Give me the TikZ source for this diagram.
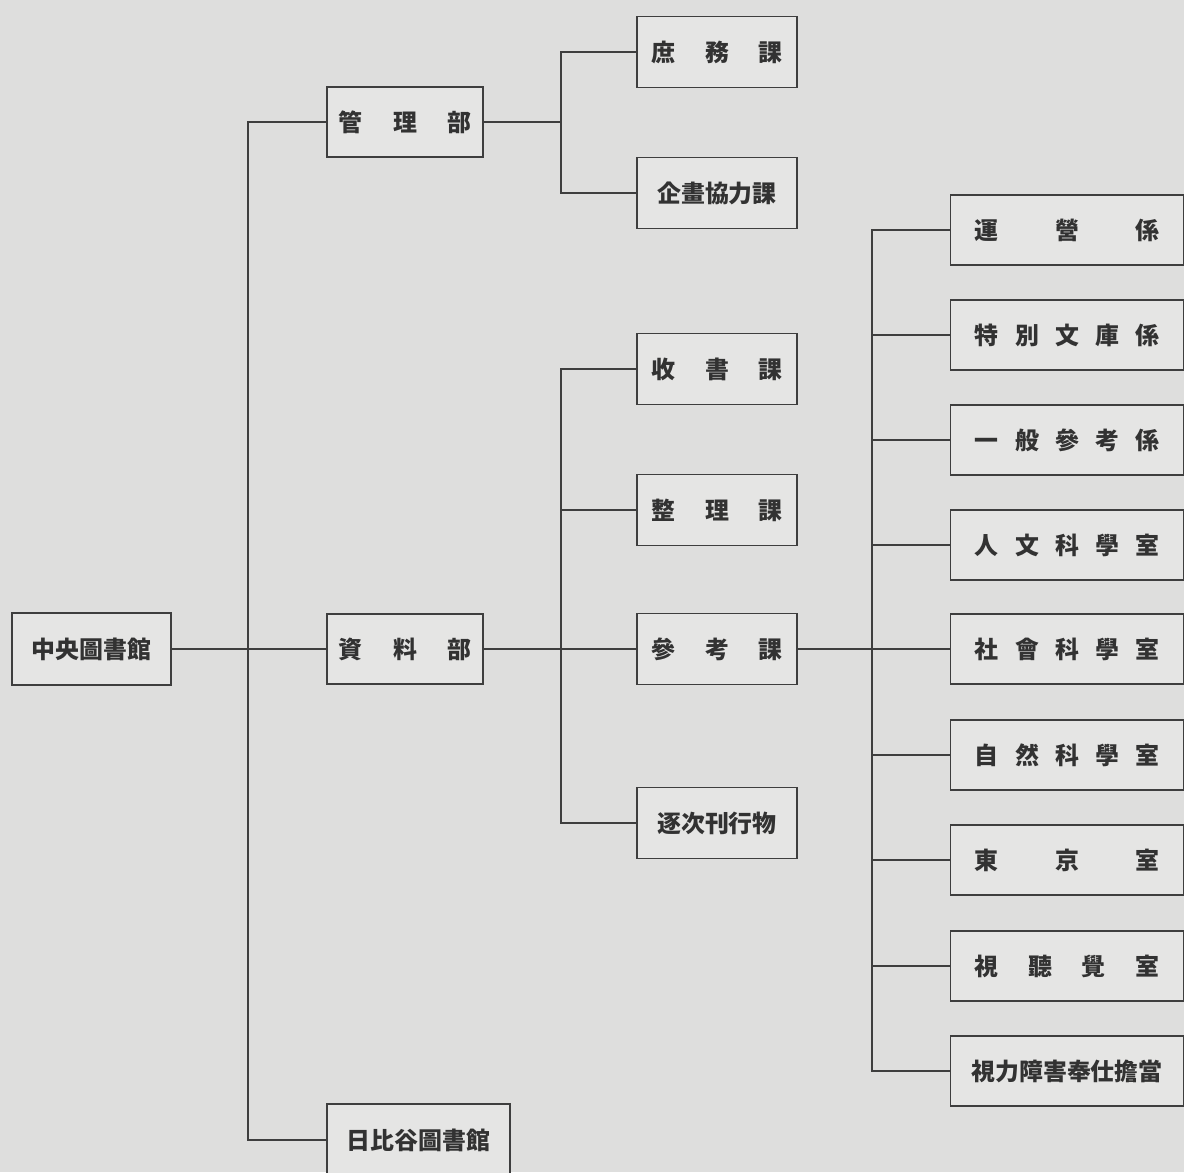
\documentclass[tikz,border=0pt]{standalone}
\usepackage{fontspec}
\usepackage{tikz}
\newfontfamily\cjk{Noto Sans CJK JP}
\definecolor{paper}{RGB}{222,222,221}
\definecolor{boxfill}{RGB}{229,229,228}
\definecolor{ink}{RGB}{62,62,62}
\newcommand{\spread}[2]{\makebox[#1][s]{#2}}

\begin{document}
\begin{tikzpicture}[x=0.025cm, y=-0.025cm,
  every node/.style={font=\cjk\bfseries\fontsize{17}{17}\selectfont, text=ink!80!black},
  box/.style={draw=ink, fill=boxfill, line width=1.2pt, inner sep=0pt},
  head/.style={box, minimum width=3.98cm, minimum height=1.8cm},
  dept/.style={box, minimum width=3.9cm, minimum height=1.75cm},
  sect/.style={box, minimum width=4cm, minimum height=1.78cm},
  room/.style={box, minimum width=5.83cm, minimum height=1.75cm},
  link/.style={draw=ink, line width=1pt}]
\useasboundingbox (0,0) rectangle (1184,1172);
\fill[paper] (0,0) rectangle (1184,1172);
\clip (0,0) rectangle (1184,1172);

\node[head] (top) at (91.5,649) {中央圖書館};
\node[dept] (dept1) at (405,122) {\spread{3.3cm}{管\hfill 理\hfill 部}};
\node[dept] (dept2) at (405,649) {\spread{3.3cm}{資\hfill 料\hfill 部}};
\node[box, minimum width=4.58cm, minimum height=1.8cm] (hibiya) at (418.5,1140) {日比谷圖書館};

\node[sect] (sect1) at (717,52) {\spread{3.25cm}{庶\hfill 務\hfill 課}};
\node[sect] (sect2) at (717,193) {企畫協力課};
\node[sect] (sect3) at (717,369) {\spread{3.25cm}{收\hfill 書\hfill 課}};
\node[sect] (sect4) at (717,510) {\spread{3.25cm}{整\hfill 理\hfill 課}};
\node[sect] (sect5) at (717,649) {\spread{3.25cm}{參\hfill 考\hfill 課}};
\node[sect] (sect6) at (717,823) {逐次刊行物};

\foreach \i/\yy/\txt in {1/230/{運\hfill 營\hfill 係}, 2/335/{特\hfill 別\hfill 文\hfill 庫\hfill 係},
    3/440/{一\hfill 般\hfill 參\hfill 考\hfill 係}, 4/545/{人\hfill 文\hfill 科\hfill 學\hfill 室},
    5/649/{社\hfill 會\hfill 科\hfill 學\hfill 室}, 6/755/{自\hfill 然\hfill 科\hfill 學\hfill 室},
    7/860/{東\hfill 京\hfill 室}, 8/966/{視\hfill 聽\hfill 覺\hfill 室}}
  \node[room] (room\i) at (1067,\yy) {\spread{4.6cm}{\txt}};
\node[room] (room9) at (1067,1071) {視力障害奉仕擔當};

\coordinate (jA) at (248,649);
\coordinate (jB) at (561,122);
\coordinate (jC) at (561,649);
\coordinate (jD) at (872,649);

\draw[link] (top.east) -- (dept2.west);
\draw[link] (dept1.west) -| (jA) |- (hibiya.west);

\draw[link] (dept1.east) -- (jB);
\draw[link] (sect1.west) -| (jB) |- (sect2.west);

\draw[link] (dept2.east) -- (sect5.west);
\draw[link] (sect3.west) -| (jC) |- (sect6.west);
\draw[link] (sect4.west) -- (sect4.west -| jC);

\draw[link] (sect5.east) -- (room5.west);
\draw[link] (room1.west) -| (jD) |- (room9.west);
\foreach \i in {2,3,4,6,7,8}
  \draw[link] (room\i.west) -- (room\i.west -| jD);
\end{tikzpicture}
\end{document}
